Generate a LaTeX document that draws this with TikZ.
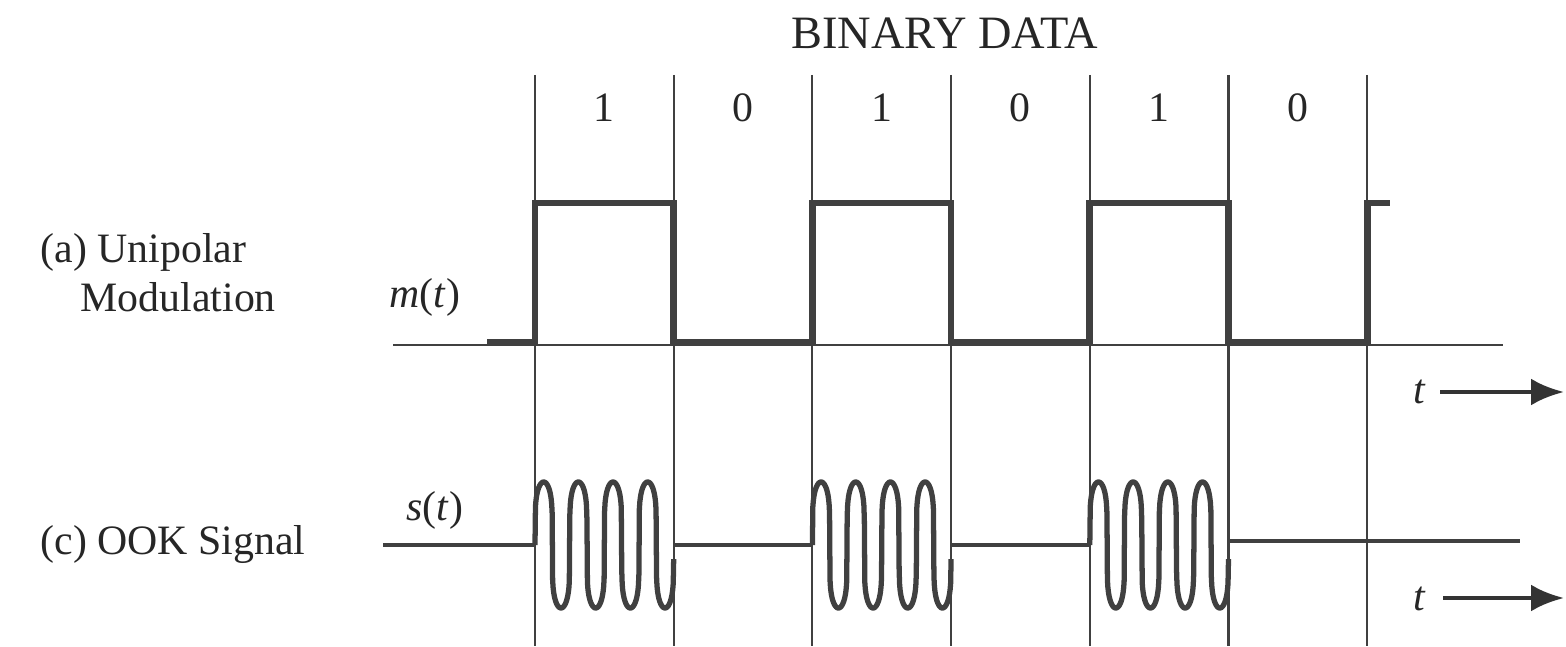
\documentclass[tikz,border=0pt]{standalone}
\usepackage{fontspec}
\setmainfont{Liberation Serif}
\usepackage{tikz}
\usetikzlibrary{arrows.meta, positioning}
\tikzstyle{grid}=[line width=0.6pt,draw=black!75]
\tikzstyle{mainline}=[line width=1.9pt,draw=black!75]
\tikzstyle{wave}=[line width=1.5pt,draw=black!75]
\tikzstyle{carrier}=[line width=1.1pt,draw=black!75]
\tikzstyle{timearrow}=[-{Latex[length=3.3mm,width=2.7mm]},line width=1.4pt,draw=black!80,fill=black!80]
\tikzstyle{lbl}=[font=\fontsize{11.9pt}{14pt}\selectfont,text=black!85,inner sep=0pt]
\newcommand{\ookburst}[1]{%
  \draw[wave] plot[domain=0:1.387,samples=300] ({#1+\x},{1.01+0.63*sign(sin(\x*1440/1.387))*pow(abs(sin(\x*1440/1.387))+0.00001,0.2)});}

\begin{document}
\begin{tikzpicture}
\useasboundingbox (0,0) rectangle (15.66,6.46);
% bit boundaries
\coordinate (b0t) at (5.35,5.71);  \coordinate (b0b) at (5.35,0);
\coordinate (b1t) at (6.737,5.71); \coordinate (b1b) at (6.737,0);
\coordinate (b2t) at (8.124,5.71); \coordinate (b2b) at (8.124,0);
\coordinate (b3t) at (9.511,5.71); \coordinate (b3b) at (9.511,0);
\coordinate (b4t) at (10.898,5.71);\coordinate (b4b) at (10.898,0);
\coordinate (b5t) at (12.285,5.71);\coordinate (b5b) at (12.285,0);
\coordinate (b6t) at (13.672,5.71);\coordinate (b6b) at (13.672,0);
\draw[grid] (b0t) -- (b0b);
\draw[grid] (b1t) -- (b1b);
\draw[grid] (b2t) -- (b2b);
\draw[grid] (b3t) -- (b3b);
\draw[grid] (b4t) -- (b4b);
\draw[grid] (b5t) -- (b5b);
\draw[grid] (b6t) -- (b6b);
% data bits
\node[lbl,font=\fontsize{13.2pt}{15pt}\selectfont] (title) at (9.45,6.13) {BINARY DATA};
\node[lbl] (d1) at (6.04,5.38) {1};
\node[lbl] (d2) at (7.43,5.38) {0};
\node[lbl] (d3) at (8.82,5.38) {1};
\node[lbl] (d4) at (10.20,5.38) {0};
\node[lbl] (d5) at (11.59,5.38) {1};
\node[lbl] (d6) at (12.98,5.38) {0};
% (a) unipolar
\node[lbl,anchor=west] (ua) at (0.40,3.94) {(a) Unipolar};
\node[lbl,anchor=west] (ub) at (0.80,3.49) {Modulation};
\node[lbl] (mt) at (4.25,3.49) {\textit{m}(\textit{t})};
\coordinate (ax0) at (3.93,3.01);
\coordinate (ax1) at (15.03,3.01);
\draw[grid] (ax0) -- (ax1);
\draw[mainline] (4.87,3.04) -| (5.35,4.43) -| (6.737,3.04) -| (8.124,4.43) -| (9.511,3.04)
  -| (10.898,4.43) -| (12.285,3.04) -| (13.672,4.43) -- (13.90,4.43);
\node[lbl] (t1) at (14.20,2.54) {\textit{t}};
\coordinate (t1a) at (14.40,2.54);
\coordinate (t1b) at (15.64,2.54);
\draw[timearrow] (t1a) -- (t1b);
% (c) OOK signal
\node[lbl,anchor=west] (ook) at (0.40,1.01) {(c) OOK Signal};
\node[lbl] (st) at (4.35,1.36) {\textit{s}(\textit{t})};
\draw[carrier] (3.83,1.01) -- (5.35,1.01);
\ookburst{5.35}
\draw[carrier] (6.737,1.01) -- (8.124,1.01);
\ookburst{8.124}
\draw[carrier] (9.511,1.01) -- (10.898,1.01);
\ookburst{10.898}
\draw[carrier] (12.285,1.05) -- (15.20,1.05);
\node[lbl] (t2) at (14.20,0.47) {\textit{t}};
\coordinate (t2a) at (14.43,0.48);
\coordinate (t2b) at (15.64,0.48);
\draw[timearrow] (t2a) -- (t2b);
\end{tikzpicture}
\end{document}
